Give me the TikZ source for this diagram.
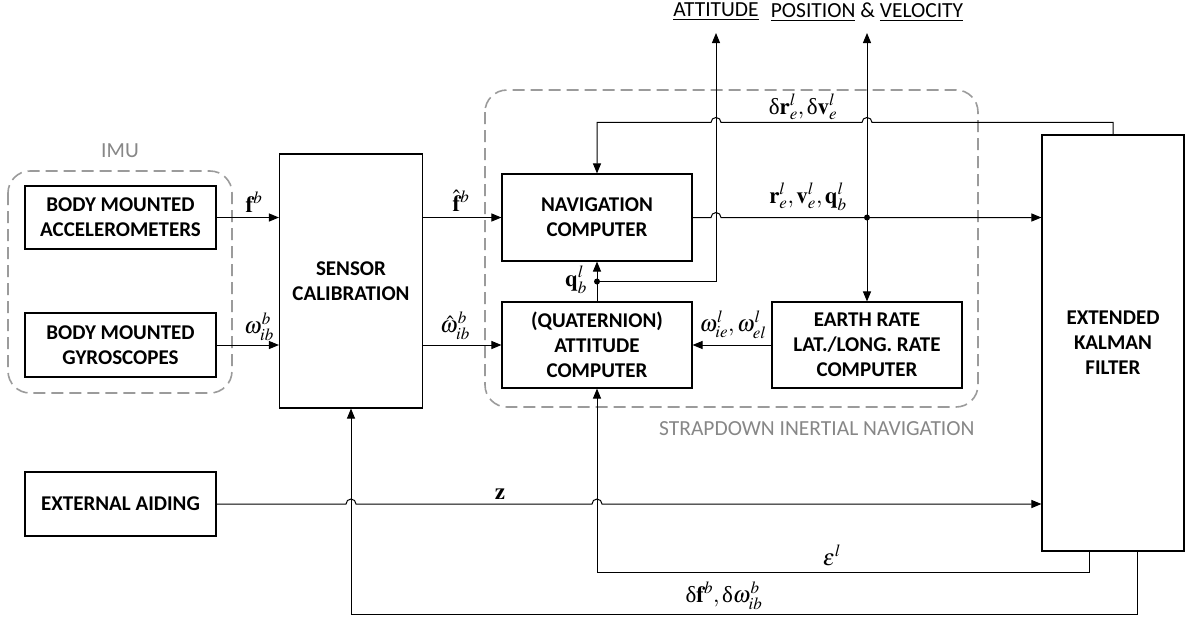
\documentclass[tikz,border=0pt]{standalone}
\usepackage{mathptmx}
\usepackage[no-math]{fontspec}
\setmainfont{Liberation Serif}
\setsansfont{Carlito}
\usetikzlibrary{positioning,calc,arrows.meta}

\definecolor{framegray}{RGB}{155,155,155}
\definecolor{textgray}{RGB}{135,135,135}

\tikzset{
  block/.style={draw, line width=1.1pt, align=center, inner sep=0pt,
    font=\sffamily\bfseries\fontsize{21}{25}\selectfont},
  group/.style={draw=framegray, line width=1.6pt, dash pattern=on 12pt off 6pt,
    rounded corners=22pt},
  grouplabel/.style={text=textgray, font=\sffamily\fontsize{21.5}{24}\selectfont},
  outlabel/.style={font=\sffamily\fontsize{21.5}{24}\selectfont},
  sig/.style={font=\fontsize{23}{25}\selectfont, inner sep=0pt, anchor=base},
  arr/.style={line width=1pt, -{Triangle[length=10pt,width=8pt]}},
  wire/.style={line width=1pt},
}

\begin{document}
\begin{tikzpicture}[x=1pt, y=-1pt]
\useasboundingbox (0,0) rectangle (1186,619);

% dashed groups
\draw[group] (8,171) rectangle (232,393);
\draw[group] (485,90) rectangle (978,407);
\node[grouplabel] (imulbl) at (120,151) {IMU};
\node[grouplabel, anchor=east] (sinslbl) at (978,429) {STRAPDOWN INERTIAL NAVIGATION};

% blocks
\node[block, minimum width=191, minimum height=63] (acc) at (120.5,217.5) {BODY MOUNTED\\ACCELEROMETERS};
\node[block, minimum width=191, minimum height=64] (gyro) at (120.5,345) {BODY MOUNTED\\GYROSCOPES};
\node[block, minimum width=191, minimum height=64] (ext) at (120.5,504) {EXTERNAL AIDING};
\node[block, minimum width=143, minimum height=254] (calib) at (351,281) {SENSOR\\CALIBRATION};
\node[block, minimum width=190, minimum height=87] (nav) at (597,217.5) {NAVIGATION\\COMPUTER};
\node[block, minimum width=190, minimum height=86] (att) at (597,345) {(QUATERNION)\\ATTITUDE\\COMPUTER};
\node[block, minimum width=190, minimum height=86] (earth) at (867,345) {EARTH RATE\\LAT./LONG. RATE\\COMPUTER};
\node[block, minimum width=142, minimum height=416] (ekf) at (1113,343) {EXTENDED\\KALMAN\\FILTER};

% outputs
\coordinate (tatt) at (716,33);
\coordinate (tpos) at (867,33);
\node[outlabel] (attlbl) at (716,12) {\underline{ATTITUDE}};
\node[outlabel] (poslbl) at (867,12) {\underline{POSITION} \& \underline{VELOCITY}};
\coordinate (pdot) at (nav.east -| tpos);
\coordinate (qdot) at ($(nav.south)!0.5!(att.north)$);
\coordinate (fbtop) at ($(ekf.north)+(0,-12)$);

% signals
\draw[arr] (acc.east) -- (acc.east -| calib.west);
\draw[arr] (gyro.east) -- (gyro.east -| calib.west);
\draw[arr] (calib.east |- nav.west) -- (nav.west);
\draw[arr] (calib.east |- att.west) -- (att.west);
\draw[arr] (earth.west) -- (att.east);
\draw[wire] (att.north) -- (qdot);
\draw[arr] (qdot) -- (nav.south);
\draw[arr] (qdot) -| (tatt);
\draw[arr] (nav.east) -- ($(nav.east -| tatt)+(-5,0)$) arc[start angle=180, end angle=0, radius=5pt]
  -- (nav.east -| ekf.west);
\draw[arr] (pdot) -- (tpos);
\draw[arr] (pdot) -- (earth.north);
\fill (pdot) circle (3pt);
\fill (qdot) circle (3pt);

% feedback from the filter
\draw[arr] (ekf.north) -- (fbtop) -- ($(fbtop -| tpos)+(5,0)$) arc[start angle=0, end angle=180, radius=5pt]
  -- ($(fbtop -| tatt)+(5,0)$) arc[start angle=0, end angle=180, radius=5pt]
  -- (fbtop -| nav.north) -- (nav.north);
\draw[arr] (ext.east) -- ($(ext.east -| calib.south)+(-5,0)$) arc[start angle=180, end angle=0, radius=5pt]
  -- ($(ext.east -| att.south)+(-5,0)$) arc[start angle=180, end angle=0, radius=5pt]
  -- (ext.east -| ekf.west);
\draw[arr] ([xshift=-24pt]ekf.south) -- ++(0,21) -| (att.south);
\draw[arr] ([xshift=24pt]ekf.south) -- ++(0,63) -| (calib.south);

% signal names
\node[sig] (fb) at (254,212) {$\mathbf{f}^b$};
\node[sig] (wib) at (259,333) {$\omega^b_{ib}$};
\node[sig] (fhat) at (461,211) {$\hat{\mathbf{f}}^b$};
\node[sig] (whib) at (455,332) {$\hat{\omega}^b_{ib}$};
\node[sig] (rvq) at (808,203) {$\mathbf{r}^l_e,\mathbf{v}^l_e,\mathbf{q}^l_b$};
\node[sig] (drdv) at (803,114) {$\mbox{δ}\mathbf{r}^l_e,\mbox{δ}\mathbf{v}^l_e$};
\node[sig] (qbl) at (576,286) {$\mathbf{q}^l_b$};
\node[sig] (wiel) at (733,331) {$\omega^l_{ie},\omega^l_{el}$};
\node[sig] (zz) at (500,499) {$\mathbf{z}$};
\node[sig] (epsl) at (832,565) {$\varepsilon^l$};
\node[sig] (dfdw) at (724,602) {$\mbox{δ}\mathbf{f}^b,\mbox{δ}\omega^b_{ib}$};
\end{tikzpicture}
\end{document}
